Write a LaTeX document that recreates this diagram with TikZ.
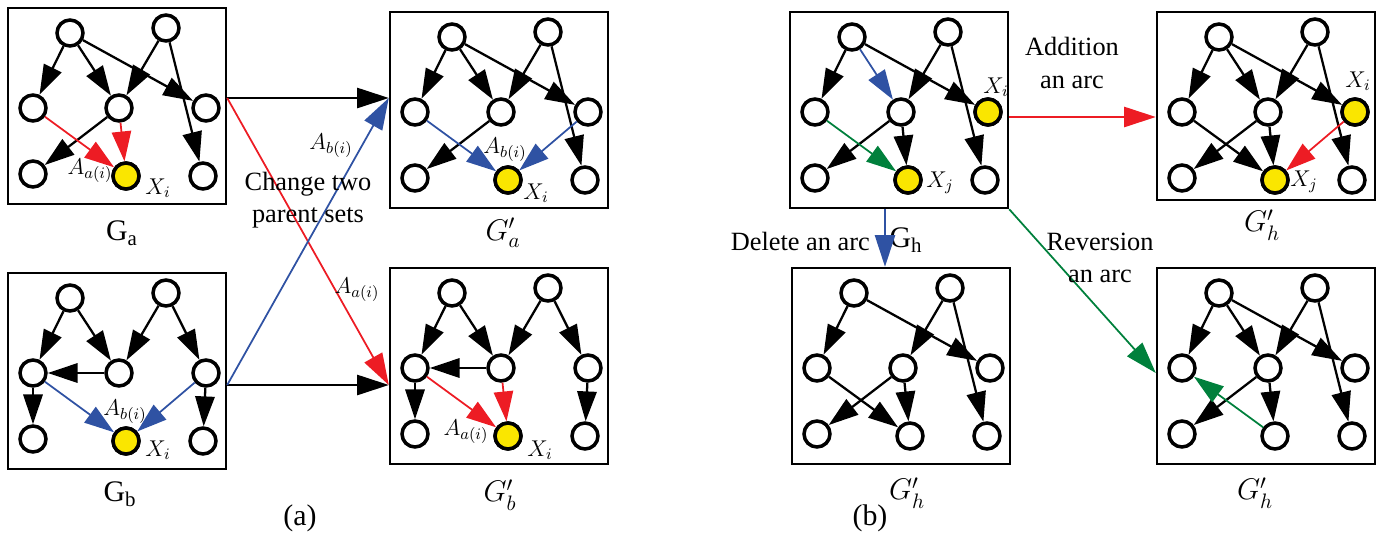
\documentclass[tikz,border=0pt]{standalone}
\usepackage{fix-cm}
\usepackage{amsmath}
\usepackage{fontspec}
\setmainfont{Liberation Serif}
\usepackage{tikz}
\usetikzlibrary{arrows.meta}

\definecolor{arcred}{RGB}{237,28,36}
\definecolor{arcblue}{RGB}{47,82,163}
\definecolor{arcgreen}{RGB}{0,128,60}
\definecolor{nodeyellow}{RGB}{250,230,0}

\tikzset{
  vertex/.style={circle, draw, line width=2pt, fill=white, minimum size=0.52cm, inner sep=0pt},
  frame/.style={draw, line width=1.4pt, minimum width=4.36cm, inner sep=0pt},
  arcline/.style={line width=1.3pt, -{Triangle[length=17pt,width=11pt]}},
  colarc/.style={arcline, line width=1pt},
  link/.style={line width=1pt, -{Triangle[length=18pt,width=11.5pt]}},
  title/.style={font=\fontsize{17}{20}\selectfont},
  note/.style={font=\fontsize{15}{18.5}\selectfont, align=center},
  sym/.style={font=\fontsize{13}{15}\selectfont},
}

\begin{document}
\begin{tikzpicture}[x=0.02cm, y=-0.02cm]
\useasboundingbox (0,0) rectangle (1377,538);

%%    GRAPHS    %%
\foreach \g/\bx/\by/\h in {ga/8/8/196, gb/8/273/196, gpa/390/12/196, gpb/390/268/196,
                           gh/790/12/196, gha/1157/12/188, ghd/792/268/196, ghr/1157/268/196} {
  \node[frame, minimum height={\h*0.02cm}] (\g) at (\bx+109,\by+\h/2) {};
  \foreach \n/\dx/\dy in {t1/62/25, t2/158/20, m1/25/100, m2/111/100, m3/198/100,
                          b1/25/166, b2/118/168, b3/195/168}
    \node[vertex] (\g-\n) at (\bx+\dx,\by+\dy) {};
}
\foreach \v in {ga-b2, gb-b2, gpa-b2, gpb-b2, gh-m3, gh-b2, gha-m3, gha-b2}
  \node[vertex, fill=nodeyellow] at (\v) {};

%%    ARCS    %%
\foreach \g in {ga, gpa, gh, gha, ghd, ghr}
  \foreach \a/\b in {t1/m1, t1/m3, t2/m2, t2/b3, m2/b1}
    \draw[arcline] (\g-\a) -- (\g-\b);
\foreach \g in {ga, gpa, gha, ghr}
  \draw[arcline] (\g-t1) -- (\g-m2);
\foreach \g in {gh, gha, ghd, ghr}
  \draw[arcline] (\g-m2) -- (\g-b2);
\foreach \g in {gha, ghd}
  \draw[arcline] (\g-m1) -- (\g-b2);
\foreach \g in {gb, gpb}
  \foreach \a/\b in {t1/m1, t1/m2, t2/m2, t2/m3, m2/m1, m1/b1, m3/b3}
    \draw[arcline] (\g-\a) -- (\g-\b);

\draw[colarc, arcred] (ga-m1) -- (ga-b2);
\draw[colarc, arcred] (ga-m2) -- (ga-b2);
\draw[colarc, arcblue] (gpa-m1) -- (gpa-b2);
\draw[colarc, arcblue] (gpa-m3) -- (gpa-b2);
\draw[colarc, arcblue] (gb-m1) -- (gb-b2);
\draw[colarc, arcblue] (gb-m3) -- (gb-b2);
\draw[colarc, arcred] (gpb-m1) -- (gpb-b2);
\draw[colarc, arcred] (gpb-m2) -- (gpb-b2);
\draw[colarc, arcblue] (gh-t1) -- (gh-m2);
\draw[colarc, arcgreen] (gh-m1) -- (gh-b2);
\draw[colarc, arcred] (gha-m3) -- (gha-b2);
\draw[colarc, arcgreen] (ghr-b2) -- (ghr-m1);

%%    LABELS    %%
\node[sym] at (90,171) {$A_{a(i)}$};
\node[sym] at (158,188) {$X_i$};
\node[sym] at (125,412) {$A_{b(i)}$};
\node[sym] at (158,450) {$X_i$};
\node[sym] at (505,150) {$A_{b(i)}$};
\node[sym] at (536,193) {$X_i$};
\node[sym] at (466,432) {$A_{a(i)}$};
\node[sym] at (540,450) {$X_i$};
\node[sym] at (996,87) {$X_i$};
\node[sym] at (940,183) {$X_j$};
\node[sym] at (1358,81) {$X_i$};
\node[sym] at (1304,182) {$X_j$};

\node[title] at (122,233) {$\text{G}_\text{a}$};
\node[title] at (120,494) {$\text{G}_\text{b}$};
\node[title] at (503,233) {$G_a^{\prime}$};
\node[title] at (500,495) {$G_b^{\prime}$};
\node[title] at (906,240) {$\text{G}_\text{h}$};
\node[title] at (1262,225) {$G_h^{\prime}$};
\node[title] at (907,493) {$G_h^{\prime}$};
\node[title] at (1255,493) {$G_h^{\prime}$};
\node[title] at (300,518) {(a)};
\node[title] at (870,518) {(b)};

%%    OPERATIONS    %%
\coordinate (ga-out) at ([yshift=0.16cm]ga.east);
\coordinate (gb-out) at ([yshift=-0.28cm]gb.east);
\draw[link] (ga-out) -- (ga-out -| gpa.west);
\draw[link] (gb-out) -- (gb-out -| gpb.west);
\draw[link, arcred] (ga-out) -- (gb-out -| gpb.west);
\draw[link, arcblue] (gb-out) -- (ga-out -| gpa.west);
\node[sym] at (331,146) {$A_{b(i)}$};
\node[sym] at (357,290) {$A_{a(i)}$};
\node[note] at (308,200) {Change two\\parent sets};

\coordinate (gh-out) at ([yshift=-0.14cm]gh.east);
\coordinate (gh-down) at ([xshift=-0.28cm]gh.south);
\draw[link, arcred] (gh-out) -- (gh-out -| gha.west);
\draw[link, arcblue] (gh-down) -- (gh-down |- ghd.north);
\draw[link, arcgreen] (gh.south east) -- ([yshift=-0.14cm]ghr.west);
\node[note] at (1072,63) {Addition\\an arc};
\node[note, anchor=east] at (876,241) {Delete an arc};
\node[note] at (1100,258) {Reversion\\an arc};

\end{tikzpicture}
\end{document}
